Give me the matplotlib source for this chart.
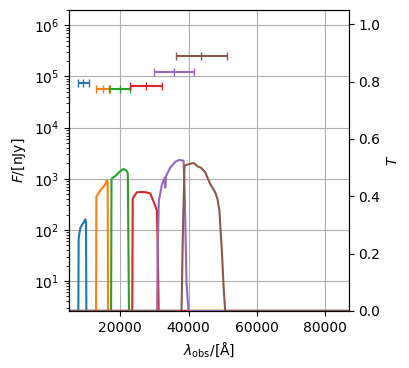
import matplotlib
matplotlib.use("Agg")
import matplotlib.pyplot as plt

# photometry: pivot wavelength, half width, flux in nJy
lam_c = [9100, 14900, 19800, 27500, 35600, 43800]
lam_err = [1600, 2000, 3150, 4780, 5860, 7420]
flux = [7.4e4, 5.8e4, 5.7e4, 6.5e4, 1.25e5, 2.5e5]

# filter transmission curves
f090w_wl = [0, 7700, 7790, 8000, 8300, 8800, 9300, 9750, 9950, 10050, 100000]
f090w_T = [0, 0, 0.25, 0.27, 0.29, 0.30, 0.31, 0.32, 0.31, 0, 0]

f150w_wl = [0, 12900, 12990, 13300, 14140, 14800, 15500, 16100, 16300, 16420, 100000]
f150w_T = [0, 0, 0.40, 0.405, 0.42, 0.43, 0.44, 0.455, 0.45, 0, 0]

f200w_wl = [0, 17300, 17420, 17800, 18500, 19300, 20200, 20960, 21800, 22200, 22550, 100000]
f200w_T = [0, 0, 0.46, 0.465, 0.47, 0.48, 0.49, 0.495, 0.49, 0.48, 0, 0]

f277w_wl = [0, 23500, 23650, 24000, 24900, 26000, 27500, 28780, 29800, 30740, 31000, 31250, 100000]
f277w_T = [0, 0, 0.39, 0.40, 0.414, 0.415, 0.414, 0.41, 0.38, 0.35, 0.2, 0, 0]

f356w_wl = [0, 30800, 30950, 31300, 32200, 33000, 33170, 33400, 34640, 36100, 37270,
            38540, 38900, 39400, 40000, 100000]
f356w_T = [0, 0, 0.2, 0.385, 0.44, 0.465, 0.43, 0.47, 0.50, 0.52, 0.527,
           0.524, 0.4, 0.1, 0, 0]

f444w_wl = [0, 37950, 38300, 38820, 40000, 41430, 42200, 42500, 43600, 44880, 46340,
            47800, 48500, 49060, 49400, 49770, 50300, 50740, 100000]
f444w_T = [0, 0, 0.25, 0.507, 0.512, 0.516, 0.51, 0.505, 0.50, 0.484, 0.443,
           0.414, 0.39, 0.35, 0.28, 0.21, 0.08, 0, 0]

filters = [(f090w_wl, f090w_T), (f150w_wl, f150w_T), (f200w_wl, f200w_T),
           (f277w_wl, f277w_T), (f356w_wl, f356w_T), (f444w_wl, f444w_T)]

fig, ax = plt.subplots(figsize=(4.09, 3.68), dpi=100)
fig.subplots_adjust(left=0.169, right=0.853, bottom=0.155, top=0.973)
ax2 = ax.twinx()

for i in range(len(lam_c)):
    ax.errorbar(lam_c[i], flux[i], xerr=lam_err[i], fmt='|', color='C%d' % i,
                capsize=3, ms=6)

for i, (wl, T) in enumerate(filters):
    ax2.plot(wl, T, color='C%d' % i)

ax.set_yscale('log')
ax.set_ylim(2.6, 2e6)
ax.set_xlim(5000, 87000)
ax2.set_ylim(0, 1.05)
ax.grid(True)

ax.set_xlabel(r'$\lambda_{\rm obs}/[\mathrm{\AA}]$')
ax.set_ylabel(r'$F/[\mathrm{nJy}]$')
ax2.set_ylabel(r'$T$')

fig.savefig('out.png', dpi=100)
